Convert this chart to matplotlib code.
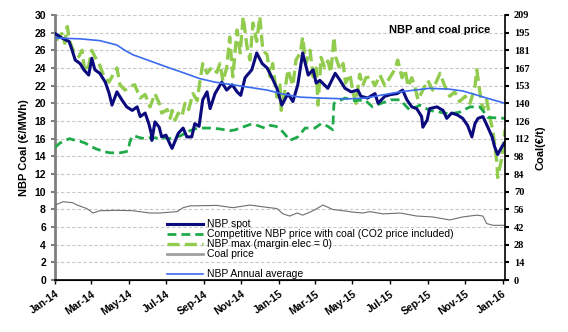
import matplotlib
matplotlib.use("Agg")
import matplotlib.pyplot as plt
import matplotlib.dates as mdates
from matplotlib.lines import Line2D
import numpy as np
import pandas as pd

plt.rcParams['font.family'] = ['Liberation Sans', 'DejaVu Sans']

START = pd.Timestamp('2014-01-01')

# ---- data (days since 2014-01-01, value) ----
spot_days = [0, 11, 23, 28, 33, 41, 47, 55, 60, 65, 73, 82, 88, 93, 101, 109, 117, 126, 134, 139,
             147, 153, 157, 158, 163, 170, 174, 181, 188, 191, 201, 209, 215, 223, 228, 235, 241, 248,
             253, 261, 272, 280, 289, 297, 303, 310, 321, 329, 338, 346, 354, 362, 370, 380, 388, 396,
             404, 413, 421, 426, 432, 445, 457, 465, 473, 483, 494, 499, 510, 522, 527, 538, 548, 558,
             567, 574, 582, 590, 598, 600, 607, 611, 623, 633, 639, 647, 656, 665, 673, 680, 685, 690,
             698, 706, 713, 717, 722, 729, 734]
spot_vals = [27.9, 27.4, 27.0, 26.0, 24.9, 24.5, 23.8, 23.2, 25.1, 23.8, 23.4, 22.4, 21.2, 19.8, 21.3,
             20.4, 19.6, 19.2, 19.6, 18.5, 18.9, 17.7, 16.6, 15.8, 17.9, 17.3, 16.2, 16.4, 15.3, 14.9,
             16.6, 17.2, 16.2, 16.2, 17.7, 17.4, 20.4, 21.3, 19.4, 21.1, 22.4, 21.5, 22.1, 21.3, 20.9,
             22.9, 23.8, 25.7, 24.5, 24.0, 22.9, 21.7, 19.8, 21.1, 20.2, 22.1, 25.7, 23.2, 23.8, 22.3,
             22.6, 21.7, 23.4, 22.6, 21.7, 21.3, 21.5, 20.8, 20.6, 21.1, 20.0, 20.8, 21.0, 21.1, 21.5,
             20.4, 19.6, 19.4, 18.5, 17.3, 18.1, 19.4, 19.6, 19.2, 18.3, 18.9, 18.7, 18.3, 17.5, 16.2,
             17.7, 18.3, 18.5, 17.3, 16.2, 15.1, 14.2, 15.1, 15.6]

comp_days = [0, 8, 16, 24, 33, 41, 49, 57, 65, 73, 82, 90, 98, 106, 114, 119, 122, 126, 130, 139, 147,
             155, 163, 171, 179, 188, 196, 204, 212, 220, 228, 236, 253, 269, 285, 294, 302, 310, 318,
             326, 334, 342, 351, 360, 366, 375, 383, 396, 408, 424, 434, 445, 453, 455, 473, 489, 505,
             518, 532, 548, 563, 579, 595, 611, 628, 644, 660, 677, 693, 701, 706, 734]
comp_vals = [15.0, 15.5, 15.8, 16.0, 15.8, 15.7, 15.5, 15.2, 14.9, 14.7, 14.5, 14.4, 14.4, 14.4, 14.5,
             14.6, 15.6, 16.3, 16.3, 16.1, 16.0, 16.1, 16.1, 16.0, 16.1, 16.0, 16.2, 16.3, 16.6, 16.9,
             17.1, 17.2, 17.2, 17.1, 16.9, 17.0, 17.2, 17.4, 17.6, 17.6, 17.4, 17.2, 17.5, 17.4, 17.2,
             16.5, 15.8, 16.2, 17.2, 17.2, 17.7, 17.4, 17.0, 20.0, 20.6, 20.3, 20.4, 19.6, 20.0, 20.4,
             20.4, 19.2, 19.8, 19.2, 19.0, 18.8, 19.0, 19.6, 19.6, 18.9, 18.4, 18.3]

max_days = [0, 3, 11, 16, 20, 24, 31, 39, 44, 49, 55, 60, 65, 73, 80, 88, 96, 101, 106, 114, 122, 130,
            139, 147, 155, 163, 170, 174, 183, 188, 191, 196, 201, 207, 212, 218, 225, 232, 236, 241,
            248, 256, 264, 269, 274, 280, 285, 290, 297, 302, 307, 313, 318, 323, 329, 334, 339, 346,
            351, 355, 362, 367, 369, 375, 380, 388, 393, 400, 404, 409, 416, 421, 426, 429, 434, 440,
            445, 450, 455, 458, 465, 470, 474, 481, 486, 491, 497, 502, 507, 514, 522, 530, 538, 546,
            554, 559, 566, 571, 576, 582, 587, 592, 600, 608, 616, 623, 628, 636, 644, 652, 660, 669,
            677, 685, 688, 693, 698, 704, 709, 714, 721, 722, 729, 734]
max_vals = [27.4, 27.2, 27.9, 26.8, 28.7, 27.0, 25.8, 25.3, 26.0, 23.5, 24.3, 26.0, 25.3, 24.3, 23.0,
            22.4, 23.4, 24.0, 22.1, 21.5, 21.9, 22.1, 20.6, 21.0, 19.6, 21.1, 20.0, 18.9, 19.3, 18.3,
            19.2, 18.1, 18.9, 18.5, 20.0, 19.3, 21.1, 20.3, 22.3, 24.5, 23.4, 24.1, 23.5, 24.5, 22.5,
            24.0, 27.5, 23.0, 28.3, 25.7, 29.8, 26.5, 24.9, 29.1, 27.0, 29.8, 26.0, 25.5, 23.0, 24.5,
            20.7, 22.1, 19.2, 21.5, 23.8, 22.0, 24.9, 25.7, 27.5, 24.5, 26.0, 23.0, 24.0, 19.8, 25.2,
            24.0, 24.8, 23.5, 27.5, 25.2, 23.8, 24.5, 22.3, 23.3, 21.3, 20.0, 23.3, 22.0, 22.9, 23.0,
            22.0, 23.2, 22.0, 22.9, 23.8, 24.9, 22.9, 23.8, 21.9, 22.9, 21.9, 20.4, 21.5, 22.6, 21.5,
            22.6, 23.4, 21.9, 20.8, 21.3, 20.2, 20.8, 20.0, 21.9, 23.8, 21.3, 19.2, 20.4, 18.5, 17.0,
            13.2, 11.6, 13.9, 17.0]

coal_days = [0, 13, 29, 36, 52, 62, 73, 101, 127, 155, 171, 199, 209, 220, 264, 290, 318, 339, 362,
             372, 383, 395, 404, 421, 437, 453, 470, 486, 502, 514, 535, 563, 590, 616, 644, 665, 688,
             698, 704, 714, 737]
coal_vals = [59.1, 61.8, 61.0, 59.2, 56.4, 52.9, 54.7, 55.0, 54.7, 52.9, 52.9, 54.0, 57.1, 58.5, 58.9,
             57.1, 59.2, 57.8, 56.4, 52.2, 50.5, 52.9, 51.2, 54.7, 59.2, 55.7, 54.7, 53.6, 52.9, 54.0,
             52.2, 52.9, 50.5, 49.8, 47.4, 49.8, 51.2, 50.5, 44.6, 43.2, 43.2]

avg_days = [0, 41, 73, 101, 114, 127, 155, 183, 212, 236, 261, 290, 318, 346, 375, 400, 432, 476, 506,
            530, 563, 611, 644, 665, 685, 704, 734]
avg_vals = [27.4, 27.3, 27.1, 26.6, 26.0, 25.5, 24.8, 24.1, 23.4, 22.8, 22.4, 22.1, 21.8, 21.5, 21.0,
            20.7, 20.6, 20.5, 20.6, 20.9, 21.3, 21.7, 21.6, 21.4, 21.0, 20.6, 20.0]

labels = ['NBP spot', 'Competitive NBP price with coal (CO2 price included)',
          'NBP max (margin elec = 0)', 'Coal price', 'NBP Annual average']

COAL_STEP = 13.95  # right-axis tick step (€/t)

def to_dates(days):
    return START + pd.to_timedelta(np.array(days), unit='D')

W, H = 568, 332
fig = plt.figure(figsize=(W / 100, H / 100), dpi=100)
x0, x1, ytop, ybot = 55, 505, 15, 280
ax = fig.add_axes([x0 / W, 1 - ybot / H, (x1 - x0) / W, (ybot - ytop) / H])
ax2 = ax.twinx()

c_spot = '#0B0B7D'
c_comp = '#1FAA4A'
c_max = '#92CC4E'
c_coal = '#6E6E6E'
c_avg = '#3B6CF0'

l_max, = ax.plot(to_dates(max_days), max_vals, color=c_max, lw=2.4, ls=(0, (3.6, 1.6)), zorder=2)
l_comp, = ax.plot(to_dates(comp_days), comp_vals, color=c_comp, lw=2.0, ls=(0, (3.2, 1.8)), zorder=3)
l_spot, = ax.plot(to_dates(spot_days), spot_vals, color=c_spot, lw=2.2, zorder=4)
l_avg, = ax.plot(to_dates(avg_days), avg_vals, color=c_avg, lw=1.2, zorder=5)
l_coal, = ax2.plot(to_dates(coal_days), coal_vals, color=c_coal, lw=0.8)

ax.set_xlim(START, START + pd.Timedelta(days=734))
ax.set_ylim(0, 30)
ax.set_yticks(np.arange(0, 31, 2))
ax2.set_ylim(0, 15 * COAL_STEP)
rt = [COAL_STEP * k for k in range(16)]
ax2.set_yticks(rt)
ax2.set_yticklabels([str(int(round(v))) for v in rt])

ax.xaxis.set_major_locator(mdates.MonthLocator(bymonth=[1, 3, 5, 7, 9, 11]))
ax.xaxis.set_major_formatter(mdates.DateFormatter('%b-%y'))
for lab in ax.get_xticklabels():
    lab.set_rotation(35)
    lab.set_ha('right')
    lab.set_rotation_mode('anchor')
ax.tick_params(axis='x', labelsize=7.5, length=3, width=1)
for lab in ax.get_xticklabels():
    lab.set_fontweight('bold')
ax.tick_params(axis='y', labelsize=7.5, length=3, width=1.5, color='#808080')
for lab in ax.get_yticklabels():
    lab.set_fontweight('bold')
ax2.tick_params(axis='y', labelsize=7.5, length=3, width=1.5, color='black')
for lab in ax2.get_yticklabels():
    lab.set_fontweight('bold')
    lab.set_family(['Liberation Serif', 'DejaVu Serif'])

ax.grid(axis='y', color='#C8C8C8', ls=(0, (3, 2)), lw=0.8)
ax.set_axisbelow(True)
ax.spines['top'].set_visible(False)
ax2.spines['top'].set_visible(False)
ax.spines['left'].set_color('#808080')
ax.spines['left'].set_linewidth(2)
ax2.spines['left'].set_visible(False)
ax2.spines['right'].set_linewidth(1.2)
ax.spines['bottom'].set_linewidth(1.2)
ax.spines['right'].set_visible(False)

ax.set_ylabel('NBP Coal (€/MWh)', fontsize=8, fontweight='bold', labelpad=4)
ax2.set_ylabel('Coal(€/t)', fontsize=8, fontweight='bold', labelpad=4)

fig.text(490 / W, 1 - 30 / H, 'NBP and coal price', fontsize=8, fontweight='bold',
         ha='right', va='center')

blank = Line2D([], [], color='none')
leg_handles = [Line2D([], [], color=c_spot, lw=2.2),
               Line2D([], [], color=c_comp, lw=2.0, ls=(0, (3.2, 1.8))),
               Line2D([], [], color=c_max, lw=2.4, ls=(0, (3.6, 1.6))),
               Line2D([], [], color='#A0A0A0', lw=2.0),
               blank,
               Line2D([], [], color=c_avg, lw=1.2)]
leg_labels = labels[:4] + [' '] + labels[4:]
leg = fig.legend(leg_handles, leg_labels, loc='upper left',
                 bbox_to_anchor=(160 / W, 1 - 212 / H), frameon=False,
                 fontsize=7.5, handlelength=3.4, handletextpad=0.4,
                 labelspacing=0.0, borderpad=0.2)

fig.savefig('out.png', dpi=100)
